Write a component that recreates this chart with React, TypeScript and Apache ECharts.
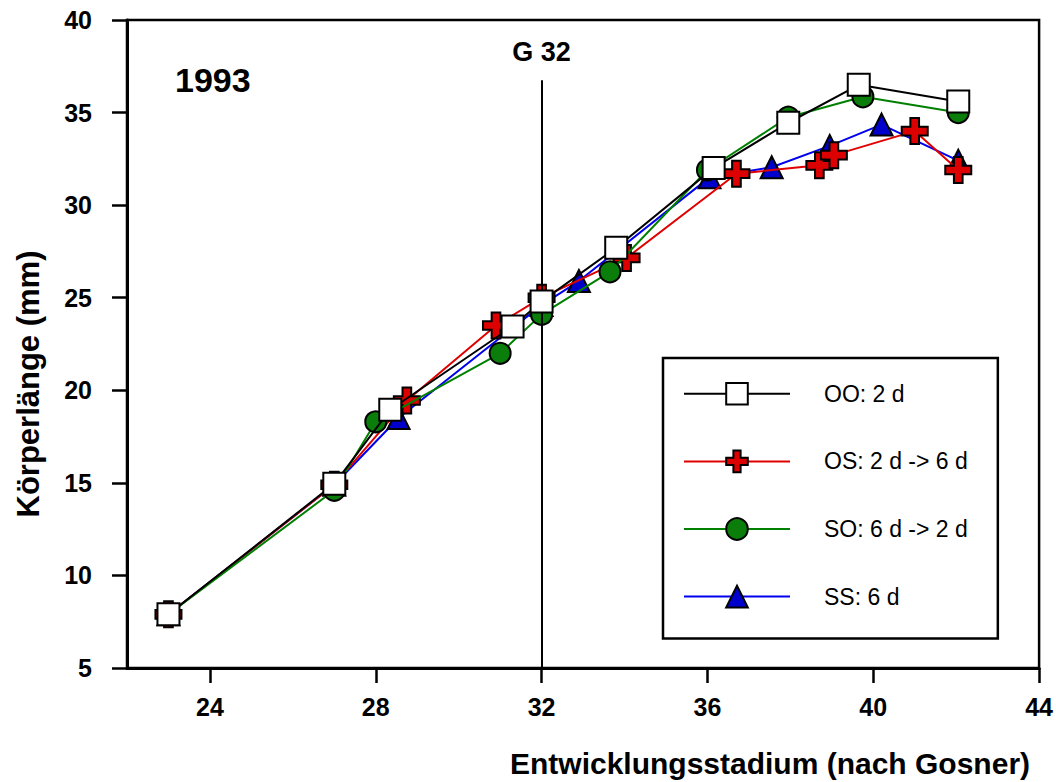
import React, { useEffect, useRef } from "react";
import * as echarts from "echarts";

// ---- data ----
const SERIES_NAMES = ["OO: 2 d", "OS: 2 d -> 6 d", "SO: 6 d -> 2 d", "SS: 6 d"];

const OO_DATA: number[][] = [
  [23, 7.9], [27, 14.95], [28.35, 18.95], [31.3, 23.45], [32, 24.8],
  [33.8, 27.7], [36.15, 32.0], [37.95, 34.45], [39.65, 36.5], [42.05, 35.6],
];
const OS_DATA: number[][] = [
  [23, 7.9], [27, 14.9], [28.75, 19.45], [30.9, 23.5], [32, 25.0],
  [34.05, 27.15], [36.7, 31.7], [38.7, 32.15], [39.05, 32.7], [41.0, 34.0], [42.05, 31.9],
];
const SO_DATA: number[][] = [
  [23, 7.9], [27, 14.6], [28.0, 18.3], [31.0, 22.0], [32.0, 24.1],
  [33.65, 26.4], [36.0, 31.9], [37.95, 34.75], [39.75, 35.85], [42.05, 35.0],
];
const SS_DATA: number[][] = [
  [23, 7.9], [27, 14.9], [28.55, 18.5], [32, 24.6], [32.9, 25.9],
  [36.05, 31.5], [37.55, 32.05], [38.95, 33.2], [40.2, 34.35], [42.05, 32.4],
];

const X_TICKS = [24, 28, 32, 36, 40, 44];
const X_MIN = 22;
const X_MAX = 44;
const Y_MIN = 5;
const Y_MAX = 40;
const Y_STEP = 5;

const G32_STAGE = 32;
const G32_LINE_TOP = 36.75;
const G32_LABEL = "G 32";
const YEAR_LABEL = "1993";
const X_TITLE = "Entwicklungsstadium (nach Gosner)";
const Y_TITLE = "Körperlänge (mm)";

const FONT = "'Liberation Sans', Arial, Helvetica, sans-serif";
const CROSS = "path://M8,0 H16 V8 H24 V16 H16 V24 H8 V16 H0 V8 H8 Z";

export default function App() {
  const ref = useRef<HTMLDivElement>(null);

  useEffect(() => {
    if (!ref.current) return;
    const chart = echarts.init(ref.current, undefined, { renderer: "svg" });

    const base = (name: string, data: number[][], color: string, symbol: string, size: number, fill: string, z: number) => ({
      name,
      type: "line",
      data,
      z,
      symbol,
      symbolSize: size,
      showAllSymbol: true,
      lineStyle: { color, width: 2 },
      itemStyle: { color: fill, borderColor: "#000", borderWidth: 2 },
      emphasis: { disabled: true },
      animation: false,
    });

    const oo: any = base(SERIES_NAMES[0], OO_DATA, "#000000", "rect", 22, "#ffffff", 5);
    oo.markLine = {
      silent: true,
      symbol: "none",
      animation: false,
      lineStyle: { color: "#000", width: 2, type: "solid" },
      label: {
        show: true,
        position: "start",
        formatter: G32_LABEL,
        fontSize: 27,
        fontWeight: "bold",
        fontFamily: FONT,
        color: "#000",
        distance: 15,
      },
      data: [[{ coord: [G32_STAGE, G32_LINE_TOP] }, { coord: [G32_STAGE, Y_MIN] }]],
    };

    const option: any = {
      animation: false,
      backgroundColor: "#ffffff",
      textStyle: { fontFamily: FONT },
      grid: {
        left: 127,
        right: 11,
        top: 20,
        bottom: 114,
        show: true,
        borderColor: "#000",
        borderWidth: 2.5,
        backgroundColor: "transparent",
      },
      xAxis: {
        type: "value",
        min: X_MIN,
        max: X_MAX,
        axisLine: { show: true, onZero: false, lineStyle: { color: "#000", width: 3 } },
        axisTick: { show: true, customValues: X_TICKS, length: 15, lineStyle: { color: "#000", width: 2.5 } },
        axisLabel: {
          customValues: X_TICKS,
          fontSize: 25,
          fontWeight: "bold",
          fontFamily: FONT,
          color: "#000",
          margin: 26,
        },
        splitLine: { show: false },
      },
      yAxis: {
        type: "value",
        min: Y_MIN,
        max: Y_MAX,
        interval: Y_STEP,
        axisLine: { show: true, onZero: false, lineStyle: { color: "#000", width: 3 } },
        axisTick: { show: true, length: 15, lineStyle: { color: "#000", width: 2.5 } },
        axisLabel: {
          fontSize: 25,
          fontWeight: "bold",
          fontFamily: FONT,
          color: "#000",
          margin: 35,
        },
        splitLine: { show: false },
      },
      legend: {
        orient: "vertical",
        left: 663,
        top: 358,
        data: SERIES_NAMES,
        selectedMode: false,
        itemWidth: 106,
        itemHeight: 27,
        itemGap: 44,
        padding: [24, 30, 30, 20],
        borderColor: "#000",
        borderWidth: 2.5,
        backgroundColor: "#fff",
        textStyle: {
          fontSize: 23,
          fontFamily: FONT,
          color: "#000",
          padding: [0, 0, 0, 29],
          width: 189,
        },
      },
      graphic: [
        {
          type: "text",
          x: 175,
          y: 80,
          style: {
            text: YEAR_LABEL,
            font: `bold 34px ${FONT}`,
            fill: "#000",
            textAlign: "left",
            textVerticalAlign: "middle",
          },
        },
        {
          type: "text",
          x: 770,
          y: 763,
          style: {
            text: X_TITLE,
            font: `bold 30px ${FONT}`,
            fill: "#000",
            textAlign: "center",
            textVerticalAlign: "middle",
          },
        },
        {
          type: "text",
          x: 28,
          y: 384,
          rotation: Math.PI / 2,
          style: {
            text: Y_TITLE,
            font: `bold 31px ${FONT}`,
            fill: "#000",
            textAlign: "center",
            textVerticalAlign: "middle",
          },
        },
      ],
      series: [
        base(SERIES_NAMES[3], SS_DATA, "#0000ee", "triangle", 22, "#0000cc", 2),
        base(SERIES_NAMES[1], OS_DATA, "#e00000", CROSS, 26, "#dd0000", 3),
        base(SERIES_NAMES[2], SO_DATA, "#008000", "circle", 21, "#0a7d0a", 4),
        oo,
      ],
    };

    chart.setOption(option);
    return () => chart.dispose();
  }, []);

  return (
    <div
      ref={ref}
      style={{ position: "absolute", left: 0, top: 0, width: 1056, height: 782, background: "#fff" }}
    />
  );
}
